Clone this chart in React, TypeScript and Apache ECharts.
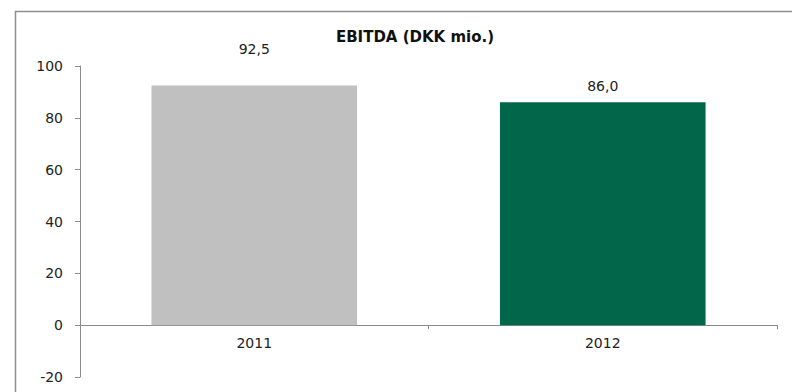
import React, { useEffect, useRef } from "react";
import * as echarts from "echarts";

const categories = ["2011", "2012"];
const ebitda = [92.5, 86.0];
const barColors = ["#C0C0C0", "#02674A"];
const yTicks = { min: -20, max: 100, interval: 20 };
const titleText = "EBITDA (DKK mio.)";

const labelDistances = [29, 9];

export default function App() {
  const ref = useRef<HTMLDivElement>(null);
  useEffect(() => {
    if (!ref.current) return;
    const chart = echarts.init(ref.current, undefined, { renderer: "svg" });
    const font = "DejaVu Sans";
    const gridTop = 66;
    const gridBottom = 15;
    const plotH = 392 - gridTop - gridBottom;
    const zeroOffset = -(plotH * (0 - yTicks.min)) / (yTicks.max - yTicks.min);
    chart.setOption({
      animation: false,
      backgroundColor: "#ffffff",
      title: {
        text: titleText,
        left: 410,
        top: 24,
        textAlign: "center",
        textStyle: { fontFamily: font, fontSize: 15, fontWeight: "bold", color: "#111" },
      },
      graphic: [
        {
          type: "rect",
          shape: { x: 15.5, y: 11.5, width: 820, height: 420 },
          style: { fill: "none", stroke: "#8f8f8f", lineWidth: 1.5 },
          silent: true,
        },
      ],
      grid: { left: 80, right: 15, top: gridTop, bottom: gridBottom, containLabel: false },
      xAxis: {
        type: "category",
        data: categories,
        offset: zeroOffset,
        axisLine: { onZero: false, lineStyle: { color: "#8a8a8a", width: 1 } },
        axisTick: { show: true, length: 4, lineStyle: { color: "#8a8a8a" } },
        axisLabel: { fontFamily: font, fontSize: 14, color: "#222", margin: 11 },
        splitLine: { show: false },
      },
      yAxis: {
        type: "value",
        min: yTicks.min,
        max: yTicks.max,
        interval: yTicks.interval,
        axisLine: { show: true, lineStyle: { color: "#8a8a8a", width: 1 } },
        axisTick: { show: true, length: 5, lineStyle: { color: "#8a8a8a" } },
        axisLabel: { fontFamily: font, fontSize: 14, color: "#222", margin: 17 },
        splitLine: { show: false },
      },
      series: [
        {
          type: "bar",
          barWidth: "59%",
          data: ebitda.map((v, i) => ({
            value: v,
            itemStyle: { color: barColors[i] },
            label: { distance: labelDistances[i] },
          })),
          label: {
            show: true,
            position: "top",
            fontFamily: font,
            fontSize: 14,
            color: "#222",
            formatter: (p: any) => Number(p.value).toFixed(1).replace(".", ","),
          },
        },
      ],
    });
    return () => chart.dispose();
  }, []);
  return (
    <div
      ref={ref}
      style={{ position: "fixed", left: 0, top: 0, width: 792, height: 392 }}
    />
  );
}
